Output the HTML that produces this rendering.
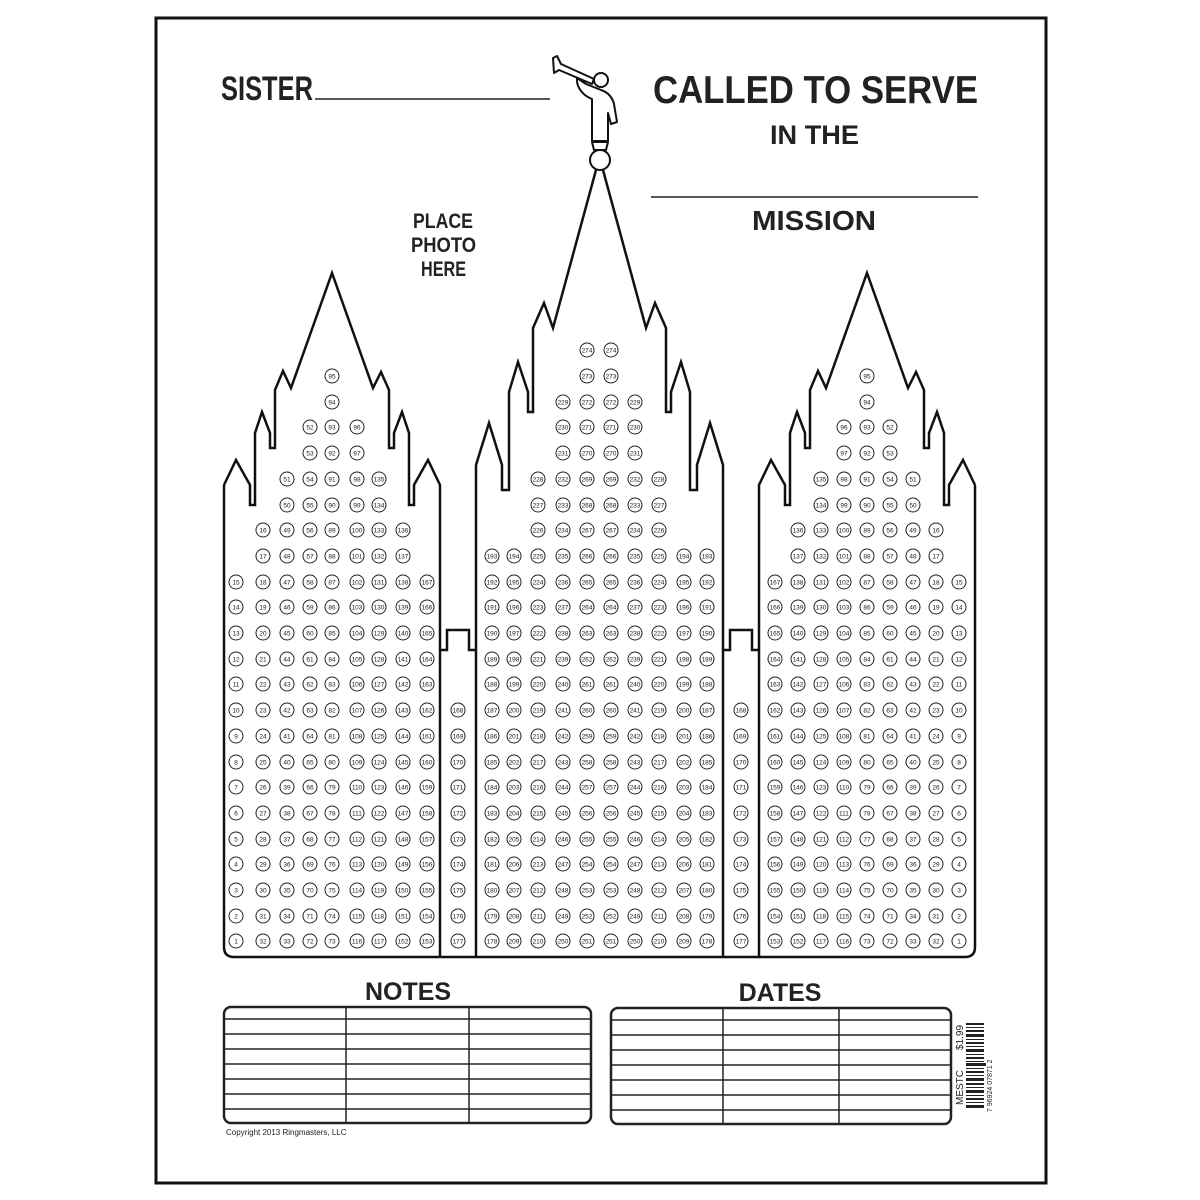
<!DOCTYPE html>
<html><head><meta charset="utf-8"><style>
html,body{margin:0;padding:0;background:#fff;}
svg{display:block;}
.c circle{fill:#fff;stroke:#222;stroke-width:1;}
.c text{font-family:"Liberation Sans",sans-serif;font-size:6.5px;fill:#222;text-anchor:middle;}
.t{font-family:"Liberation Sans",sans-serif;font-weight:bold;fill:#222;}
</style></head><body>
<svg width="1200" height="1200" viewBox="0 0 1200 1200" xmlns="http://www.w3.org/2000/svg">
<rect width="1200" height="1200" fill="#fff"/>
<rect x="156" y="18" width="890" height="1165" fill="none" stroke="#111" stroke-width="3"/>

<!-- titles -->
<text class="t" x="221" y="100" font-size="34" textLength="92" lengthAdjust="spacingAndGlyphs">SISTER</text>
<line x1="315" y1="99" x2="550" y2="99" stroke="#222" stroke-width="1.5"/>
<text class="t" x="653" y="103" font-size="39" textLength="325" lengthAdjust="spacingAndGlyphs">CALLED TO SERVE</text>
<text class="t" x="770" y="144" font-size="27" textLength="89" lengthAdjust="spacingAndGlyphs">IN THE</text>
<line x1="651" y1="197" x2="978" y2="197" stroke="#222" stroke-width="1.5"/>
<text class="t" x="752" y="230" font-size="28" textLength="124" lengthAdjust="spacingAndGlyphs">MISSION</text>
<text class="t" x="413" y="228" font-size="21" textLength="60" lengthAdjust="spacingAndGlyphs">PLACE</text>
<text class="t" x="411" y="252" font-size="21" textLength="65" lengthAdjust="spacingAndGlyphs">PHOTO</text>
<text class="t" x="421" y="276" font-size="21" textLength="45" lengthAdjust="spacingAndGlyphs">HERE</text>

<!-- building outline -->
<g fill="none" stroke="#111" stroke-width="2.5" stroke-linejoin="miter">
<path d="M224,485 L236,460 L250,485 L250,505 L255,505 L255,433 L262,412 L270,433 L270,448 L275,448 L275,390 L283,371 L291,388 L332,273 L373,388 L381,372 L389,390 L389,448 L394,448 L394,433 L402,412 L409,433 L409,505 L414,505 L414,485 L428,460 L440,485 L440,957"/>
<path d="M759,957 L759,485 L771,460 L785,485 L785,505 L790,505 L790,433 L797,412 L805,433 L805,448 L810,448 L810,390 L818,371 L826,388 L867,273 L908,388 L916,372 L924,390 L924,448 L929,448 L929,433 L937,412 L944,433 L944,505 L949,505 L949,485 L963,460 L975,485"/>
<path d="M224,485 L224,947 Q224,957 234,957 L965,957 Q975,957 975,947 L975,485"/>
<path d="M476,957 L476,465 L489,423 L502,465 L502,490 L509,490 L509,392 L518,362 L528,392 L528,412 L533,412 L533,328 L544,303 L553,328 L596,170 M603,170 L646,328 L655,303 L666,328 L666,412 L671,412 L671,392 L681,362 L690,392 L690,490 L697,490 L697,465 L710,423 L723,465 L723,957"/>
<path d="M440,650 L447,650 L447,630 L469,630 L469,650 L476,650"/>
<path d="M723,650 L730,650 L730,630 L752,630 L752,650 L759,650"/>
</g>
<!-- angel -->
<g fill="#fff" stroke="#111" stroke-width="2" stroke-linejoin="round">
<ellipse cx="600" cy="160" rx="10" ry="10"/>
<path d="M592,142 L608,142 L606,150 L594,150 Z"/>
<path d="M553,58 L557,56 L561,64 L594,79 L592,84 L559,70 L554,73 Z"/>
<path d="M577,78 C576,88 584,96 592,99 L592,141 L608,141 L608,113 L611,124 L617,122 L614,104 C612,96 607,92 601,90 L596,88 L586,84 Z"/>
<circle cx="601" cy="80" r="7"/>
</g>

<!-- circles -->
<g class="c">
<!-- left tower -->
<circle cx="332" cy="376" r="7"/><text x="332" y="378.5">95</text>
<circle cx="332" cy="402" r="7"/><text x="332" y="404.5">94</text>
<circle cx="310" cy="427" r="7"/><text x="310" y="429.5">52</text><circle cx="332" cy="427" r="7"/><text x="332" y="429.5">93</text><circle cx="357" cy="427" r="7"/><text x="357" y="429.5">96</text>
<circle cx="310" cy="453" r="7"/><text x="310" y="455.5">53</text><circle cx="332" cy="453" r="7"/><text x="332" y="455.5">92</text><circle cx="357" cy="453" r="7"/><text x="357" y="455.5">97</text>
<circle cx="287" cy="479" r="7"/><text x="287" y="481.5">51</text><circle cx="310" cy="479" r="7"/><text x="310" y="481.5">54</text><circle cx="332" cy="479" r="7"/><text x="332" y="481.5">91</text><circle cx="357" cy="479" r="7"/><text x="357" y="481.5">98</text><circle cx="379" cy="479" r="7"/><text x="379" y="481.5">135</text>
<circle cx="287" cy="505" r="7"/><text x="287" y="507.5">50</text><circle cx="310" cy="505" r="7"/><text x="310" y="507.5">55</text><circle cx="332" cy="505" r="7"/><text x="332" y="507.5">90</text><circle cx="357" cy="505" r="7"/><text x="357" y="507.5">99</text><circle cx="379" cy="505" r="7"/><text x="379" y="507.5">134</text>
<circle cx="263" cy="530" r="7"/><text x="263" y="532.5">16</text><circle cx="287" cy="530" r="7"/><text x="287" y="532.5">49</text><circle cx="310" cy="530" r="7"/><text x="310" y="532.5">56</text><circle cx="332" cy="530" r="7"/><text x="332" y="532.5">89</text><circle cx="357" cy="530" r="7"/><text x="357" y="532.5">100</text><circle cx="379" cy="530" r="7"/><text x="379" y="532.5">133</text><circle cx="403" cy="530" r="7"/><text x="403" y="532.5">136</text>
<circle cx="263" cy="556" r="7"/><text x="263" y="558.5">17</text><circle cx="287" cy="556" r="7"/><text x="287" y="558.5">48</text><circle cx="310" cy="556" r="7"/><text x="310" y="558.5">57</text><circle cx="332" cy="556" r="7"/><text x="332" y="558.5">88</text><circle cx="357" cy="556" r="7"/><text x="357" y="558.5">101</text><circle cx="379" cy="556" r="7"/><text x="379" y="558.5">132</text><circle cx="403" cy="556" r="7"/><text x="403" y="558.5">137</text>
<circle cx="236" cy="582" r="7"/><text x="236" y="584.5">15</text><circle cx="263" cy="582" r="7"/><text x="263" y="584.5">18</text><circle cx="287" cy="582" r="7"/><text x="287" y="584.5">47</text><circle cx="310" cy="582" r="7"/><text x="310" y="584.5">58</text><circle cx="332" cy="582" r="7"/><text x="332" y="584.5">87</text><circle cx="357" cy="582" r="7"/><text x="357" y="584.5">102</text><circle cx="379" cy="582" r="7"/><text x="379" y="584.5">131</text><circle cx="403" cy="582" r="7"/><text x="403" y="584.5">138</text><circle cx="427" cy="582" r="7"/><text x="427" y="584.5">167</text>
<circle cx="236" cy="607" r="7"/><text x="236" y="609.5">14</text><circle cx="263" cy="607" r="7"/><text x="263" y="609.5">19</text><circle cx="287" cy="607" r="7"/><text x="287" y="609.5">46</text><circle cx="310" cy="607" r="7"/><text x="310" y="609.5">59</text><circle cx="332" cy="607" r="7"/><text x="332" y="609.5">86</text><circle cx="357" cy="607" r="7"/><text x="357" y="609.5">103</text><circle cx="379" cy="607" r="7"/><text x="379" y="609.5">130</text><circle cx="403" cy="607" r="7"/><text x="403" y="609.5">139</text><circle cx="427" cy="607" r="7"/><text x="427" y="609.5">166</text>
<circle cx="236" cy="633" r="7"/><text x="236" y="635.5">13</text><circle cx="263" cy="633" r="7"/><text x="263" y="635.5">20</text><circle cx="287" cy="633" r="7"/><text x="287" y="635.5">45</text><circle cx="310" cy="633" r="7"/><text x="310" y="635.5">60</text><circle cx="332" cy="633" r="7"/><text x="332" y="635.5">85</text><circle cx="357" cy="633" r="7"/><text x="357" y="635.5">104</text><circle cx="379" cy="633" r="7"/><text x="379" y="635.5">129</text><circle cx="403" cy="633" r="7"/><text x="403" y="635.5">140</text><circle cx="427" cy="633" r="7"/><text x="427" y="635.5">165</text>
<circle cx="236" cy="659" r="7"/><text x="236" y="661.5">12</text><circle cx="263" cy="659" r="7"/><text x="263" y="661.5">21</text><circle cx="287" cy="659" r="7"/><text x="287" y="661.5">44</text><circle cx="310" cy="659" r="7"/><text x="310" y="661.5">61</text><circle cx="332" cy="659" r="7"/><text x="332" y="661.5">84</text><circle cx="357" cy="659" r="7"/><text x="357" y="661.5">105</text><circle cx="379" cy="659" r="7"/><text x="379" y="661.5">128</text><circle cx="403" cy="659" r="7"/><text x="403" y="661.5">141</text><circle cx="427" cy="659" r="7"/><text x="427" y="661.5">164</text>
<circle cx="236" cy="684" r="7"/><text x="236" y="686.5">11</text><circle cx="263" cy="684" r="7"/><text x="263" y="686.5">22</text><circle cx="287" cy="684" r="7"/><text x="287" y="686.5">43</text><circle cx="310" cy="684" r="7"/><text x="310" y="686.5">62</text><circle cx="332" cy="684" r="7"/><text x="332" y="686.5">83</text><circle cx="357" cy="684" r="7"/><text x="357" y="686.5">106</text><circle cx="379" cy="684" r="7"/><text x="379" y="686.5">127</text><circle cx="403" cy="684" r="7"/><text x="403" y="686.5">142</text><circle cx="427" cy="684" r="7"/><text x="427" y="686.5">163</text>
<circle cx="236" cy="710" r="7"/><text x="236" y="712.5">10</text><circle cx="263" cy="710" r="7"/><text x="263" y="712.5">23</text><circle cx="287" cy="710" r="7"/><text x="287" y="712.5">42</text><circle cx="310" cy="710" r="7"/><text x="310" y="712.5">63</text><circle cx="332" cy="710" r="7"/><text x="332" y="712.5">82</text><circle cx="357" cy="710" r="7"/><text x="357" y="712.5">107</text><circle cx="379" cy="710" r="7"/><text x="379" y="712.5">126</text><circle cx="403" cy="710" r="7"/><text x="403" y="712.5">143</text><circle cx="427" cy="710" r="7"/><text x="427" y="712.5">162</text>
<circle cx="236" cy="736" r="7"/><text x="236" y="738.5">9</text><circle cx="263" cy="736" r="7"/><text x="263" y="738.5">24</text><circle cx="287" cy="736" r="7"/><text x="287" y="738.5">41</text><circle cx="310" cy="736" r="7"/><text x="310" y="738.5">64</text><circle cx="332" cy="736" r="7"/><text x="332" y="738.5">81</text><circle cx="357" cy="736" r="7"/><text x="357" y="738.5">108</text><circle cx="379" cy="736" r="7"/><text x="379" y="738.5">125</text><circle cx="403" cy="736" r="7"/><text x="403" y="738.5">144</text><circle cx="427" cy="736" r="7"/><text x="427" y="738.5">161</text>
<circle cx="236" cy="762" r="7"/><text x="236" y="764.5">8</text><circle cx="263" cy="762" r="7"/><text x="263" y="764.5">25</text><circle cx="287" cy="762" r="7"/><text x="287" y="764.5">40</text><circle cx="310" cy="762" r="7"/><text x="310" y="764.5">65</text><circle cx="332" cy="762" r="7"/><text x="332" y="764.5">80</text><circle cx="357" cy="762" r="7"/><text x="357" y="764.5">109</text><circle cx="379" cy="762" r="7"/><text x="379" y="764.5">124</text><circle cx="403" cy="762" r="7"/><text x="403" y="764.5">145</text><circle cx="427" cy="762" r="7"/><text x="427" y="764.5">160</text>
<circle cx="236" cy="787" r="7"/><text x="236" y="789.5">7</text><circle cx="263" cy="787" r="7"/><text x="263" y="789.5">26</text><circle cx="287" cy="787" r="7"/><text x="287" y="789.5">39</text><circle cx="310" cy="787" r="7"/><text x="310" y="789.5">66</text><circle cx="332" cy="787" r="7"/><text x="332" y="789.5">79</text><circle cx="357" cy="787" r="7"/><text x="357" y="789.5">110</text><circle cx="379" cy="787" r="7"/><text x="379" y="789.5">123</text><circle cx="403" cy="787" r="7"/><text x="403" y="789.5">146</text><circle cx="427" cy="787" r="7"/><text x="427" y="789.5">159</text>
<circle cx="236" cy="813" r="7"/><text x="236" y="815.5">6</text><circle cx="263" cy="813" r="7"/><text x="263" y="815.5">27</text><circle cx="287" cy="813" r="7"/><text x="287" y="815.5">38</text><circle cx="310" cy="813" r="7"/><text x="310" y="815.5">67</text><circle cx="332" cy="813" r="7"/><text x="332" y="815.5">78</text><circle cx="357" cy="813" r="7"/><text x="357" y="815.5">111</text><circle cx="379" cy="813" r="7"/><text x="379" y="815.5">122</text><circle cx="403" cy="813" r="7"/><text x="403" y="815.5">147</text><circle cx="427" cy="813" r="7"/><text x="427" y="815.5">158</text>
<circle cx="236" cy="839" r="7"/><text x="236" y="841.5">5</text><circle cx="263" cy="839" r="7"/><text x="263" y="841.5">28</text><circle cx="287" cy="839" r="7"/><text x="287" y="841.5">37</text><circle cx="310" cy="839" r="7"/><text x="310" y="841.5">68</text><circle cx="332" cy="839" r="7"/><text x="332" y="841.5">77</text><circle cx="357" cy="839" r="7"/><text x="357" y="841.5">112</text><circle cx="379" cy="839" r="7"/><text x="379" y="841.5">121</text><circle cx="403" cy="839" r="7"/><text x="403" y="841.5">148</text><circle cx="427" cy="839" r="7"/><text x="427" y="841.5">157</text>
<circle cx="236" cy="864" r="7"/><text x="236" y="866.5">4</text><circle cx="263" cy="864" r="7"/><text x="263" y="866.5">29</text><circle cx="287" cy="864" r="7"/><text x="287" y="866.5">36</text><circle cx="310" cy="864" r="7"/><text x="310" y="866.5">69</text><circle cx="332" cy="864" r="7"/><text x="332" y="866.5">76</text><circle cx="357" cy="864" r="7"/><text x="357" y="866.5">113</text><circle cx="379" cy="864" r="7"/><text x="379" y="866.5">120</text><circle cx="403" cy="864" r="7"/><text x="403" y="866.5">149</text><circle cx="427" cy="864" r="7"/><text x="427" y="866.5">156</text>
<circle cx="236" cy="890" r="7"/><text x="236" y="892.5">3</text><circle cx="263" cy="890" r="7"/><text x="263" y="892.5">30</text><circle cx="287" cy="890" r="7"/><text x="287" y="892.5">35</text><circle cx="310" cy="890" r="7"/><text x="310" y="892.5">70</text><circle cx="332" cy="890" r="7"/><text x="332" y="892.5">75</text><circle cx="357" cy="890" r="7"/><text x="357" y="892.5">114</text><circle cx="379" cy="890" r="7"/><text x="379" y="892.5">119</text><circle cx="403" cy="890" r="7"/><text x="403" y="892.5">150</text><circle cx="427" cy="890" r="7"/><text x="427" y="892.5">155</text>
<circle cx="236" cy="916" r="7"/><text x="236" y="918.5">2</text><circle cx="263" cy="916" r="7"/><text x="263" y="918.5">31</text><circle cx="287" cy="916" r="7"/><text x="287" y="918.5">34</text><circle cx="310" cy="916" r="7"/><text x="310" y="918.5">71</text><circle cx="332" cy="916" r="7"/><text x="332" y="918.5">74</text><circle cx="357" cy="916" r="7"/><text x="357" y="918.5">115</text><circle cx="379" cy="916" r="7"/><text x="379" y="918.5">118</text><circle cx="403" cy="916" r="7"/><text x="403" y="918.5">151</text><circle cx="427" cy="916" r="7"/><text x="427" y="918.5">154</text>
<circle cx="236" cy="941" r="7"/><text x="236" y="943.5">1</text><circle cx="263" cy="941" r="7"/><text x="263" y="943.5">32</text><circle cx="287" cy="941" r="7"/><text x="287" y="943.5">33</text><circle cx="310" cy="941" r="7"/><text x="310" y="943.5">72</text><circle cx="332" cy="941" r="7"/><text x="332" y="943.5">73</text><circle cx="357" cy="941" r="7"/><text x="357" y="943.5">116</text><circle cx="379" cy="941" r="7"/><text x="379" y="943.5">117</text><circle cx="403" cy="941" r="7"/><text x="403" y="943.5">152</text><circle cx="427" cy="941" r="7"/><text x="427" y="943.5">153</text>

<!-- right tower -->
<circle cx="867" cy="376" r="7"/><text x="867" y="378.5">95</text>
<circle cx="867" cy="402" r="7"/><text x="867" y="404.5">94</text>
<circle cx="844" cy="427" r="7"/><text x="844" y="429.5">96</text><circle cx="867" cy="427" r="7"/><text x="867" y="429.5">93</text><circle cx="890" cy="427" r="7"/><text x="890" y="429.5">52</text>
<circle cx="844" cy="453" r="7"/><text x="844" y="455.5">97</text><circle cx="867" cy="453" r="7"/><text x="867" y="455.5">92</text><circle cx="890" cy="453" r="7"/><text x="890" y="455.5">53</text>
<circle cx="821" cy="479" r="7"/><text x="821" y="481.5">135</text><circle cx="844" cy="479" r="7"/><text x="844" y="481.5">98</text><circle cx="867" cy="479" r="7"/><text x="867" y="481.5">91</text><circle cx="890" cy="479" r="7"/><text x="890" y="481.5">54</text><circle cx="913" cy="479" r="7"/><text x="913" y="481.5">51</text>
<circle cx="821" cy="505" r="7"/><text x="821" y="507.5">134</text><circle cx="844" cy="505" r="7"/><text x="844" y="507.5">99</text><circle cx="867" cy="505" r="7"/><text x="867" y="507.5">90</text><circle cx="890" cy="505" r="7"/><text x="890" y="507.5">55</text><circle cx="913" cy="505" r="7"/><text x="913" y="507.5">50</text>
<circle cx="798" cy="530" r="7"/><text x="798" y="532.5">136</text><circle cx="821" cy="530" r="7"/><text x="821" y="532.5">133</text><circle cx="844" cy="530" r="7"/><text x="844" y="532.5">100</text><circle cx="867" cy="530" r="7"/><text x="867" y="532.5">89</text><circle cx="890" cy="530" r="7"/><text x="890" y="532.5">56</text><circle cx="913" cy="530" r="7"/><text x="913" y="532.5">49</text><circle cx="936" cy="530" r="7"/><text x="936" y="532.5">16</text>
<circle cx="798" cy="556" r="7"/><text x="798" y="558.5">137</text><circle cx="821" cy="556" r="7"/><text x="821" y="558.5">132</text><circle cx="844" cy="556" r="7"/><text x="844" y="558.5">101</text><circle cx="867" cy="556" r="7"/><text x="867" y="558.5">88</text><circle cx="890" cy="556" r="7"/><text x="890" y="558.5">57</text><circle cx="913" cy="556" r="7"/><text x="913" y="558.5">48</text><circle cx="936" cy="556" r="7"/><text x="936" y="558.5">17</text>
<circle cx="775" cy="582" r="7"/><text x="775" y="584.5">167</text><circle cx="798" cy="582" r="7"/><text x="798" y="584.5">138</text><circle cx="821" cy="582" r="7"/><text x="821" y="584.5">131</text><circle cx="844" cy="582" r="7"/><text x="844" y="584.5">102</text><circle cx="867" cy="582" r="7"/><text x="867" y="584.5">87</text><circle cx="890" cy="582" r="7"/><text x="890" y="584.5">58</text><circle cx="913" cy="582" r="7"/><text x="913" y="584.5">47</text><circle cx="936" cy="582" r="7"/><text x="936" y="584.5">18</text><circle cx="959" cy="582" r="7"/><text x="959" y="584.5">15</text>
<circle cx="775" cy="607" r="7"/><text x="775" y="609.5">166</text><circle cx="798" cy="607" r="7"/><text x="798" y="609.5">139</text><circle cx="821" cy="607" r="7"/><text x="821" y="609.5">130</text><circle cx="844" cy="607" r="7"/><text x="844" y="609.5">103</text><circle cx="867" cy="607" r="7"/><text x="867" y="609.5">86</text><circle cx="890" cy="607" r="7"/><text x="890" y="609.5">59</text><circle cx="913" cy="607" r="7"/><text x="913" y="609.5">46</text><circle cx="936" cy="607" r="7"/><text x="936" y="609.5">19</text><circle cx="959" cy="607" r="7"/><text x="959" y="609.5">14</text>
<circle cx="775" cy="633" r="7"/><text x="775" y="635.5">165</text><circle cx="798" cy="633" r="7"/><text x="798" y="635.5">140</text><circle cx="821" cy="633" r="7"/><text x="821" y="635.5">129</text><circle cx="844" cy="633" r="7"/><text x="844" y="635.5">104</text><circle cx="867" cy="633" r="7"/><text x="867" y="635.5">85</text><circle cx="890" cy="633" r="7"/><text x="890" y="635.5">60</text><circle cx="913" cy="633" r="7"/><text x="913" y="635.5">45</text><circle cx="936" cy="633" r="7"/><text x="936" y="635.5">20</text><circle cx="959" cy="633" r="7"/><text x="959" y="635.5">13</text>
<circle cx="775" cy="659" r="7"/><text x="775" y="661.5">164</text><circle cx="798" cy="659" r="7"/><text x="798" y="661.5">141</text><circle cx="821" cy="659" r="7"/><text x="821" y="661.5">128</text><circle cx="844" cy="659" r="7"/><text x="844" y="661.5">105</text><circle cx="867" cy="659" r="7"/><text x="867" y="661.5">84</text><circle cx="890" cy="659" r="7"/><text x="890" y="661.5">61</text><circle cx="913" cy="659" r="7"/><text x="913" y="661.5">44</text><circle cx="936" cy="659" r="7"/><text x="936" y="661.5">21</text><circle cx="959" cy="659" r="7"/><text x="959" y="661.5">12</text>
<circle cx="775" cy="684" r="7"/><text x="775" y="686.5">163</text><circle cx="798" cy="684" r="7"/><text x="798" y="686.5">142</text><circle cx="821" cy="684" r="7"/><text x="821" y="686.5">127</text><circle cx="844" cy="684" r="7"/><text x="844" y="686.5">106</text><circle cx="867" cy="684" r="7"/><text x="867" y="686.5">83</text><circle cx="890" cy="684" r="7"/><text x="890" y="686.5">62</text><circle cx="913" cy="684" r="7"/><text x="913" y="686.5">43</text><circle cx="936" cy="684" r="7"/><text x="936" y="686.5">22</text><circle cx="959" cy="684" r="7"/><text x="959" y="686.5">11</text>
<circle cx="775" cy="710" r="7"/><text x="775" y="712.5">162</text><circle cx="798" cy="710" r="7"/><text x="798" y="712.5">143</text><circle cx="821" cy="710" r="7"/><text x="821" y="712.5">126</text><circle cx="844" cy="710" r="7"/><text x="844" y="712.5">107</text><circle cx="867" cy="710" r="7"/><text x="867" y="712.5">82</text><circle cx="890" cy="710" r="7"/><text x="890" y="712.5">63</text><circle cx="913" cy="710" r="7"/><text x="913" y="712.5">42</text><circle cx="936" cy="710" r="7"/><text x="936" y="712.5">23</text><circle cx="959" cy="710" r="7"/><text x="959" y="712.5">10</text>
<circle cx="775" cy="736" r="7"/><text x="775" y="738.5">161</text><circle cx="798" cy="736" r="7"/><text x="798" y="738.5">144</text><circle cx="821" cy="736" r="7"/><text x="821" y="738.5">125</text><circle cx="844" cy="736" r="7"/><text x="844" y="738.5">108</text><circle cx="867" cy="736" r="7"/><text x="867" y="738.5">81</text><circle cx="890" cy="736" r="7"/><text x="890" y="738.5">64</text><circle cx="913" cy="736" r="7"/><text x="913" y="738.5">41</text><circle cx="936" cy="736" r="7"/><text x="936" y="738.5">24</text><circle cx="959" cy="736" r="7"/><text x="959" y="738.5">9</text>
<circle cx="775" cy="762" r="7"/><text x="775" y="764.5">160</text><circle cx="798" cy="762" r="7"/><text x="798" y="764.5">145</text><circle cx="821" cy="762" r="7"/><text x="821" y="764.5">124</text><circle cx="844" cy="762" r="7"/><text x="844" y="764.5">109</text><circle cx="867" cy="762" r="7"/><text x="867" y="764.5">80</text><circle cx="890" cy="762" r="7"/><text x="890" y="764.5">65</text><circle cx="913" cy="762" r="7"/><text x="913" y="764.5">40</text><circle cx="936" cy="762" r="7"/><text x="936" y="764.5">25</text><circle cx="959" cy="762" r="7"/><text x="959" y="764.5">8</text>
<circle cx="775" cy="787" r="7"/><text x="775" y="789.5">159</text><circle cx="798" cy="787" r="7"/><text x="798" y="789.5">146</text><circle cx="821" cy="787" r="7"/><text x="821" y="789.5">123</text><circle cx="844" cy="787" r="7"/><text x="844" y="789.5">110</text><circle cx="867" cy="787" r="7"/><text x="867" y="789.5">79</text><circle cx="890" cy="787" r="7"/><text x="890" y="789.5">66</text><circle cx="913" cy="787" r="7"/><text x="913" y="789.5">39</text><circle cx="936" cy="787" r="7"/><text x="936" y="789.5">26</text><circle cx="959" cy="787" r="7"/><text x="959" y="789.5">7</text>
<circle cx="775" cy="813" r="7"/><text x="775" y="815.5">158</text><circle cx="798" cy="813" r="7"/><text x="798" y="815.5">147</text><circle cx="821" cy="813" r="7"/><text x="821" y="815.5">122</text><circle cx="844" cy="813" r="7"/><text x="844" y="815.5">111</text><circle cx="867" cy="813" r="7"/><text x="867" y="815.5">78</text><circle cx="890" cy="813" r="7"/><text x="890" y="815.5">67</text><circle cx="913" cy="813" r="7"/><text x="913" y="815.5">38</text><circle cx="936" cy="813" r="7"/><text x="936" y="815.5">27</text><circle cx="959" cy="813" r="7"/><text x="959" y="815.5">6</text>
<circle cx="775" cy="839" r="7"/><text x="775" y="841.5">157</text><circle cx="798" cy="839" r="7"/><text x="798" y="841.5">148</text><circle cx="821" cy="839" r="7"/><text x="821" y="841.5">121</text><circle cx="844" cy="839" r="7"/><text x="844" y="841.5">112</text><circle cx="867" cy="839" r="7"/><text x="867" y="841.5">77</text><circle cx="890" cy="839" r="7"/><text x="890" y="841.5">68</text><circle cx="913" cy="839" r="7"/><text x="913" y="841.5">37</text><circle cx="936" cy="839" r="7"/><text x="936" y="841.5">28</text><circle cx="959" cy="839" r="7"/><text x="959" y="841.5">5</text>
<circle cx="775" cy="864" r="7"/><text x="775" y="866.5">156</text><circle cx="798" cy="864" r="7"/><text x="798" y="866.5">149</text><circle cx="821" cy="864" r="7"/><text x="821" y="866.5">120</text><circle cx="844" cy="864" r="7"/><text x="844" y="866.5">113</text><circle cx="867" cy="864" r="7"/><text x="867" y="866.5">76</text><circle cx="890" cy="864" r="7"/><text x="890" y="866.5">69</text><circle cx="913" cy="864" r="7"/><text x="913" y="866.5">36</text><circle cx="936" cy="864" r="7"/><text x="936" y="866.5">29</text><circle cx="959" cy="864" r="7"/><text x="959" y="866.5">4</text>
<circle cx="775" cy="890" r="7"/><text x="775" y="892.5">155</text><circle cx="798" cy="890" r="7"/><text x="798" y="892.5">150</text><circle cx="821" cy="890" r="7"/><text x="821" y="892.5">119</text><circle cx="844" cy="890" r="7"/><text x="844" y="892.5">114</text><circle cx="867" cy="890" r="7"/><text x="867" y="892.5">75</text><circle cx="890" cy="890" r="7"/><text x="890" y="892.5">70</text><circle cx="913" cy="890" r="7"/><text x="913" y="892.5">35</text><circle cx="936" cy="890" r="7"/><text x="936" y="892.5">30</text><circle cx="959" cy="890" r="7"/><text x="959" y="892.5">3</text>
<circle cx="775" cy="916" r="7"/><text x="775" y="918.5">154</text><circle cx="798" cy="916" r="7"/><text x="798" y="918.5">151</text><circle cx="821" cy="916" r="7"/><text x="821" y="918.5">118</text><circle cx="844" cy="916" r="7"/><text x="844" y="918.5">115</text><circle cx="867" cy="916" r="7"/><text x="867" y="918.5">74</text><circle cx="890" cy="916" r="7"/><text x="890" y="918.5">71</text><circle cx="913" cy="916" r="7"/><text x="913" y="918.5">34</text><circle cx="936" cy="916" r="7"/><text x="936" y="918.5">31</text><circle cx="959" cy="916" r="7"/><text x="959" y="918.5">2</text>
<circle cx="775" cy="941" r="7"/><text x="775" y="943.5">153</text><circle cx="798" cy="941" r="7"/><text x="798" y="943.5">152</text><circle cx="821" cy="941" r="7"/><text x="821" y="943.5">117</text><circle cx="844" cy="941" r="7"/><text x="844" y="943.5">116</text><circle cx="867" cy="941" r="7"/><text x="867" y="943.5">73</text><circle cx="890" cy="941" r="7"/><text x="890" y="943.5">72</text><circle cx="913" cy="941" r="7"/><text x="913" y="943.5">33</text><circle cx="936" cy="941" r="7"/><text x="936" y="943.5">32</text><circle cx="959" cy="941" r="7"/><text x="959" y="943.5">1</text>

<!-- small towers -->
<circle cx="458" cy="710" r="7"/><text x="458" y="712.5">168</text><circle cx="741" cy="710" r="7"/><text x="741" y="712.5">168</text>
<circle cx="458" cy="736" r="7"/><text x="458" y="738.5">169</text><circle cx="741" cy="736" r="7"/><text x="741" y="738.5">169</text>
<circle cx="458" cy="762" r="7"/><text x="458" y="764.5">170</text><circle cx="741" cy="762" r="7"/><text x="741" y="764.5">170</text>
<circle cx="458" cy="787" r="7"/><text x="458" y="789.5">171</text><circle cx="741" cy="787" r="7"/><text x="741" y="789.5">171</text>
<circle cx="458" cy="813" r="7"/><text x="458" y="815.5">172</text><circle cx="741" cy="813" r="7"/><text x="741" y="815.5">172</text>
<circle cx="458" cy="839" r="7"/><text x="458" y="841.5">173</text><circle cx="741" cy="839" r="7"/><text x="741" y="841.5">173</text>
<circle cx="458" cy="864" r="7"/><text x="458" y="866.5">174</text><circle cx="741" cy="864" r="7"/><text x="741" y="866.5">174</text>
<circle cx="458" cy="890" r="7"/><text x="458" y="892.5">175</text><circle cx="741" cy="890" r="7"/><text x="741" y="892.5">175</text>
<circle cx="458" cy="916" r="7"/><text x="458" y="918.5">176</text><circle cx="741" cy="916" r="7"/><text x="741" y="918.5">176</text>
<circle cx="458" cy="941" r="7"/><text x="458" y="943.5">177</text><circle cx="741" cy="941" r="7"/><text x="741" y="943.5">177</text>

<!-- center tower -->
<circle cx="587" cy="350" r="7"/><text x="587" y="352.5">274</text><circle cx="611" cy="350" r="7"/><text x="611" y="352.5">274</text>
<circle cx="587" cy="376" r="7"/><text x="587" y="378.5">273</text><circle cx="611" cy="376" r="7"/><text x="611" y="378.5">273</text>
<circle cx="563" cy="402" r="7"/><text x="563" y="404.5">229</text><circle cx="587" cy="402" r="7"/><text x="587" y="404.5">272</text><circle cx="611" cy="402" r="7"/><text x="611" y="404.5">272</text><circle cx="635" cy="402" r="7"/><text x="635" y="404.5">229</text>
<circle cx="563" cy="427" r="7"/><text x="563" y="429.5">230</text><circle cx="587" cy="427" r="7"/><text x="587" y="429.5">271</text><circle cx="611" cy="427" r="7"/><text x="611" y="429.5">271</text><circle cx="635" cy="427" r="7"/><text x="635" y="429.5">230</text>
<circle cx="563" cy="453" r="7"/><text x="563" y="455.5">231</text><circle cx="587" cy="453" r="7"/><text x="587" y="455.5">270</text><circle cx="611" cy="453" r="7"/><text x="611" y="455.5">270</text><circle cx="635" cy="453" r="7"/><text x="635" y="455.5">231</text>
<circle cx="538" cy="479" r="7"/><text x="538" y="481.5">228</text><circle cx="563" cy="479" r="7"/><text x="563" y="481.5">232</text><circle cx="587" cy="479" r="7"/><text x="587" y="481.5">269</text><circle cx="611" cy="479" r="7"/><text x="611" y="481.5">269</text><circle cx="635" cy="479" r="7"/><text x="635" y="481.5">232</text><circle cx="659" cy="479" r="7"/><text x="659" y="481.5">228</text>
<circle cx="538" cy="505" r="7"/><text x="538" y="507.5">227</text><circle cx="563" cy="505" r="7"/><text x="563" y="507.5">233</text><circle cx="587" cy="505" r="7"/><text x="587" y="507.5">268</text><circle cx="611" cy="505" r="7"/><text x="611" y="507.5">268</text><circle cx="635" cy="505" r="7"/><text x="635" y="507.5">233</text><circle cx="659" cy="505" r="7"/><text x="659" y="507.5">227</text>
<circle cx="538" cy="530" r="7"/><text x="538" y="532.5">226</text><circle cx="563" cy="530" r="7"/><text x="563" y="532.5">234</text><circle cx="587" cy="530" r="7"/><text x="587" y="532.5">267</text><circle cx="611" cy="530" r="7"/><text x="611" y="532.5">267</text><circle cx="635" cy="530" r="7"/><text x="635" y="532.5">234</text><circle cx="659" cy="530" r="7"/><text x="659" y="532.5">226</text>
<circle cx="492" cy="556" r="7"/><text x="492" y="558.5">193</text><circle cx="514" cy="556" r="7"/><text x="514" y="558.5">194</text><circle cx="538" cy="556" r="7"/><text x="538" y="558.5">225</text><circle cx="563" cy="556" r="7"/><text x="563" y="558.5">235</text><circle cx="587" cy="556" r="7"/><text x="587" y="558.5">266</text><circle cx="611" cy="556" r="7"/><text x="611" y="558.5">266</text><circle cx="635" cy="556" r="7"/><text x="635" y="558.5">235</text><circle cx="659" cy="556" r="7"/><text x="659" y="558.5">225</text><circle cx="684" cy="556" r="7"/><text x="684" y="558.5">194</text><circle cx="707" cy="556" r="7"/><text x="707" y="558.5">193</text>
<circle cx="492" cy="582" r="7"/><text x="492" y="584.5">192</text><circle cx="514" cy="582" r="7"/><text x="514" y="584.5">195</text><circle cx="538" cy="582" r="7"/><text x="538" y="584.5">224</text><circle cx="563" cy="582" r="7"/><text x="563" y="584.5">236</text><circle cx="587" cy="582" r="7"/><text x="587" y="584.5">265</text><circle cx="611" cy="582" r="7"/><text x="611" y="584.5">265</text><circle cx="635" cy="582" r="7"/><text x="635" y="584.5">236</text><circle cx="659" cy="582" r="7"/><text x="659" y="584.5">224</text><circle cx="684" cy="582" r="7"/><text x="684" y="584.5">195</text><circle cx="707" cy="582" r="7"/><text x="707" y="584.5">192</text>
<circle cx="492" cy="607" r="7"/><text x="492" y="609.5">191</text><circle cx="514" cy="607" r="7"/><text x="514" y="609.5">196</text><circle cx="538" cy="607" r="7"/><text x="538" y="609.5">223</text><circle cx="563" cy="607" r="7"/><text x="563" y="609.5">237</text><circle cx="587" cy="607" r="7"/><text x="587" y="609.5">264</text><circle cx="611" cy="607" r="7"/><text x="611" y="609.5">264</text><circle cx="635" cy="607" r="7"/><text x="635" y="609.5">237</text><circle cx="659" cy="607" r="7"/><text x="659" y="609.5">223</text><circle cx="684" cy="607" r="7"/><text x="684" y="609.5">196</text><circle cx="707" cy="607" r="7"/><text x="707" y="609.5">191</text>
<circle cx="492" cy="633" r="7"/><text x="492" y="635.5">190</text><circle cx="514" cy="633" r="7"/><text x="514" y="635.5">197</text><circle cx="538" cy="633" r="7"/><text x="538" y="635.5">222</text><circle cx="563" cy="633" r="7"/><text x="563" y="635.5">238</text><circle cx="587" cy="633" r="7"/><text x="587" y="635.5">263</text><circle cx="611" cy="633" r="7"/><text x="611" y="635.5">263</text><circle cx="635" cy="633" r="7"/><text x="635" y="635.5">238</text><circle cx="659" cy="633" r="7"/><text x="659" y="635.5">222</text><circle cx="684" cy="633" r="7"/><text x="684" y="635.5">197</text><circle cx="707" cy="633" r="7"/><text x="707" y="635.5">190</text>
<circle cx="492" cy="659" r="7"/><text x="492" y="661.5">189</text><circle cx="514" cy="659" r="7"/><text x="514" y="661.5">198</text><circle cx="538" cy="659" r="7"/><text x="538" y="661.5">221</text><circle cx="563" cy="659" r="7"/><text x="563" y="661.5">239</text><circle cx="587" cy="659" r="7"/><text x="587" y="661.5">262</text><circle cx="611" cy="659" r="7"/><text x="611" y="661.5">262</text><circle cx="635" cy="659" r="7"/><text x="635" y="661.5">239</text><circle cx="659" cy="659" r="7"/><text x="659" y="661.5">221</text><circle cx="684" cy="659" r="7"/><text x="684" y="661.5">198</text><circle cx="707" cy="659" r="7"/><text x="707" y="661.5">189</text>
<circle cx="492" cy="684" r="7"/><text x="492" y="686.5">188</text><circle cx="514" cy="684" r="7"/><text x="514" y="686.5">199</text><circle cx="538" cy="684" r="7"/><text x="538" y="686.5">220</text><circle cx="563" cy="684" r="7"/><text x="563" y="686.5">240</text><circle cx="587" cy="684" r="7"/><text x="587" y="686.5">261</text><circle cx="611" cy="684" r="7"/><text x="611" y="686.5">261</text><circle cx="635" cy="684" r="7"/><text x="635" y="686.5">240</text><circle cx="659" cy="684" r="7"/><text x="659" y="686.5">220</text><circle cx="684" cy="684" r="7"/><text x="684" y="686.5">199</text><circle cx="707" cy="684" r="7"/><text x="707" y="686.5">188</text>
<circle cx="492" cy="710" r="7"/><text x="492" y="712.5">187</text><circle cx="514" cy="710" r="7"/><text x="514" y="712.5">200</text><circle cx="538" cy="710" r="7"/><text x="538" y="712.5">219</text><circle cx="563" cy="710" r="7"/><text x="563" y="712.5">241</text><circle cx="587" cy="710" r="7"/><text x="587" y="712.5">260</text><circle cx="611" cy="710" r="7"/><text x="611" y="712.5">260</text><circle cx="635" cy="710" r="7"/><text x="635" y="712.5">241</text><circle cx="659" cy="710" r="7"/><text x="659" y="712.5">219</text><circle cx="684" cy="710" r="7"/><text x="684" y="712.5">200</text><circle cx="707" cy="710" r="7"/><text x="707" y="712.5">187</text>
<circle cx="492" cy="736" r="7"/><text x="492" y="738.5">186</text><circle cx="514" cy="736" r="7"/><text x="514" y="738.5">201</text><circle cx="538" cy="736" r="7"/><text x="538" y="738.5">218</text><circle cx="563" cy="736" r="7"/><text x="563" y="738.5">242</text><circle cx="587" cy="736" r="7"/><text x="587" y="738.5">259</text><circle cx="611" cy="736" r="7"/><text x="611" y="738.5">259</text><circle cx="635" cy="736" r="7"/><text x="635" y="738.5">242</text><circle cx="659" cy="736" r="7"/><text x="659" y="738.5">218</text><circle cx="684" cy="736" r="7"/><text x="684" y="738.5">201</text><circle cx="707" cy="736" r="7"/><text x="707" y="738.5">186</text>
<circle cx="492" cy="762" r="7"/><text x="492" y="764.5">185</text><circle cx="514" cy="762" r="7"/><text x="514" y="764.5">202</text><circle cx="538" cy="762" r="7"/><text x="538" y="764.5">217</text><circle cx="563" cy="762" r="7"/><text x="563" y="764.5">243</text><circle cx="587" cy="762" r="7"/><text x="587" y="764.5">258</text><circle cx="611" cy="762" r="7"/><text x="611" y="764.5">258</text><circle cx="635" cy="762" r="7"/><text x="635" y="764.5">243</text><circle cx="659" cy="762" r="7"/><text x="659" y="764.5">217</text><circle cx="684" cy="762" r="7"/><text x="684" y="764.5">202</text><circle cx="707" cy="762" r="7"/><text x="707" y="764.5">185</text>
<circle cx="492" cy="787" r="7"/><text x="492" y="789.5">184</text><circle cx="514" cy="787" r="7"/><text x="514" y="789.5">203</text><circle cx="538" cy="787" r="7"/><text x="538" y="789.5">216</text><circle cx="563" cy="787" r="7"/><text x="563" y="789.5">244</text><circle cx="587" cy="787" r="7"/><text x="587" y="789.5">257</text><circle cx="611" cy="787" r="7"/><text x="611" y="789.5">257</text><circle cx="635" cy="787" r="7"/><text x="635" y="789.5">244</text><circle cx="659" cy="787" r="7"/><text x="659" y="789.5">216</text><circle cx="684" cy="787" r="7"/><text x="684" y="789.5">203</text><circle cx="707" cy="787" r="7"/><text x="707" y="789.5">184</text>
<circle cx="492" cy="813" r="7"/><text x="492" y="815.5">183</text><circle cx="514" cy="813" r="7"/><text x="514" y="815.5">204</text><circle cx="538" cy="813" r="7"/><text x="538" y="815.5">215</text><circle cx="563" cy="813" r="7"/><text x="563" y="815.5">245</text><circle cx="587" cy="813" r="7"/><text x="587" y="815.5">256</text><circle cx="611" cy="813" r="7"/><text x="611" y="815.5">256</text><circle cx="635" cy="813" r="7"/><text x="635" y="815.5">245</text><circle cx="659" cy="813" r="7"/><text x="659" y="815.5">215</text><circle cx="684" cy="813" r="7"/><text x="684" y="815.5">204</text><circle cx="707" cy="813" r="7"/><text x="707" y="815.5">183</text>
<circle cx="492" cy="839" r="7"/><text x="492" y="841.5">182</text><circle cx="514" cy="839" r="7"/><text x="514" y="841.5">205</text><circle cx="538" cy="839" r="7"/><text x="538" y="841.5">214</text><circle cx="563" cy="839" r="7"/><text x="563" y="841.5">246</text><circle cx="587" cy="839" r="7"/><text x="587" y="841.5">255</text><circle cx="611" cy="839" r="7"/><text x="611" y="841.5">255</text><circle cx="635" cy="839" r="7"/><text x="635" y="841.5">246</text><circle cx="659" cy="839" r="7"/><text x="659" y="841.5">214</text><circle cx="684" cy="839" r="7"/><text x="684" y="841.5">205</text><circle cx="707" cy="839" r="7"/><text x="707" y="841.5">182</text>
<circle cx="492" cy="864" r="7"/><text x="492" y="866.5">181</text><circle cx="514" cy="864" r="7"/><text x="514" y="866.5">206</text><circle cx="538" cy="864" r="7"/><text x="538" y="866.5">213</text><circle cx="563" cy="864" r="7"/><text x="563" y="866.5">247</text><circle cx="587" cy="864" r="7"/><text x="587" y="866.5">254</text><circle cx="611" cy="864" r="7"/><text x="611" y="866.5">254</text><circle cx="635" cy="864" r="7"/><text x="635" y="866.5">247</text><circle cx="659" cy="864" r="7"/><text x="659" y="866.5">213</text><circle cx="684" cy="864" r="7"/><text x="684" y="866.5">206</text><circle cx="707" cy="864" r="7"/><text x="707" y="866.5">181</text>
<circle cx="492" cy="890" r="7"/><text x="492" y="892.5">180</text><circle cx="514" cy="890" r="7"/><text x="514" y="892.5">207</text><circle cx="538" cy="890" r="7"/><text x="538" y="892.5">212</text><circle cx="563" cy="890" r="7"/><text x="563" y="892.5">248</text><circle cx="587" cy="890" r="7"/><text x="587" y="892.5">253</text><circle cx="611" cy="890" r="7"/><text x="611" y="892.5">253</text><circle cx="635" cy="890" r="7"/><text x="635" y="892.5">248</text><circle cx="659" cy="890" r="7"/><text x="659" y="892.5">212</text><circle cx="684" cy="890" r="7"/><text x="684" y="892.5">207</text><circle cx="707" cy="890" r="7"/><text x="707" y="892.5">180</text>
<circle cx="492" cy="916" r="7"/><text x="492" y="918.5">179</text><circle cx="514" cy="916" r="7"/><text x="514" y="918.5">208</text><circle cx="538" cy="916" r="7"/><text x="538" y="918.5">211</text><circle cx="563" cy="916" r="7"/><text x="563" y="918.5">249</text><circle cx="587" cy="916" r="7"/><text x="587" y="918.5">252</text><circle cx="611" cy="916" r="7"/><text x="611" y="918.5">252</text><circle cx="635" cy="916" r="7"/><text x="635" y="918.5">249</text><circle cx="659" cy="916" r="7"/><text x="659" y="918.5">211</text><circle cx="684" cy="916" r="7"/><text x="684" y="918.5">208</text><circle cx="707" cy="916" r="7"/><text x="707" y="918.5">179</text>
<circle cx="492" cy="941" r="7"/><text x="492" y="943.5">178</text><circle cx="514" cy="941" r="7"/><text x="514" y="943.5">209</text><circle cx="538" cy="941" r="7"/><text x="538" y="943.5">210</text><circle cx="563" cy="941" r="7"/><text x="563" y="943.5">250</text><circle cx="587" cy="941" r="7"/><text x="587" y="943.5">251</text><circle cx="611" cy="941" r="7"/><text x="611" y="943.5">251</text><circle cx="635" cy="941" r="7"/><text x="635" y="943.5">250</text><circle cx="659" cy="941" r="7"/><text x="659" y="943.5">210</text><circle cx="684" cy="941" r="7"/><text x="684" y="943.5">209</text><circle cx="707" cy="941" r="7"/><text x="707" y="943.5">178</text>
</g>

<!-- notes / dates -->
<text class="t" x="408" y="1000" font-size="25" text-anchor="middle">NOTES</text>
<text class="t" x="780" y="1001" font-size="25" text-anchor="middle">DATES</text>
<g fill="none" stroke="#222" stroke-width="2.5">
<rect x="224" y="1007" width="367" height="116" rx="7"/>
<rect x="611" y="1008" width="340" height="116" rx="7"/>
</g>
<g stroke="#222" stroke-width="1.5">
<line x1="224" y1="1019" x2="591" y2="1019"/><line x1="224" y1="1034" x2="591" y2="1034"/><line x1="224" y1="1049" x2="591" y2="1049"/><line x1="224" y1="1064" x2="591" y2="1064"/><line x1="224" y1="1079" x2="591" y2="1079"/><line x1="224" y1="1094" x2="591" y2="1094"/><line x1="224" y1="1109" x2="591" y2="1109"/>
<line x1="346" y1="1007" x2="346" y2="1123"/><line x1="469" y1="1007" x2="469" y2="1123"/>
<line x1="611" y1="1020" x2="951" y2="1020"/><line x1="611" y1="1035" x2="951" y2="1035"/><line x1="611" y1="1050" x2="951" y2="1050"/><line x1="611" y1="1065" x2="951" y2="1065"/><line x1="611" y1="1080" x2="951" y2="1080"/><line x1="611" y1="1095" x2="951" y2="1095"/><line x1="611" y1="1110" x2="951" y2="1110"/>
<line x1="723" y1="1008" x2="723" y2="1124"/><line x1="839" y1="1008" x2="839" y2="1124"/>
</g>
<text x="226" y="1135" font-family="Liberation Sans, sans-serif" font-size="8" fill="#222">Copyright 2013 Ringmasters, LLC</text>

<!-- barcode -->
<g fill="#222">
<rect x="966" y="1023" width="18" height="2"/><rect x="966" y="1027" width="18" height="1"/><rect x="966" y="1030" width="18" height="2"/><rect x="966" y="1034" width="18" height="3"/><rect x="966" y="1039" width="18" height="1"/><rect x="966" y="1042" width="18" height="2"/><rect x="966" y="1046" width="18" height="1"/><rect x="966" y="1049" width="18" height="3"/><rect x="966" y="1054" width="18" height="1"/><rect x="966" y="1057" width="18" height="2"/><rect x="966" y="1061" width="18" height="1"/><rect x="966" y="1063" width="20" height="3"/><rect x="966" y="1068" width="18" height="1"/><rect x="966" y="1071" width="18" height="2"/><rect x="966" y="1075" width="18" height="1"/><rect x="966" y="1078" width="18" height="3"/><rect x="966" y="1083" width="18" height="2"/><rect x="966" y="1087" width="18" height="1"/><rect x="966" y="1090" width="18" height="3"/><rect x="966" y="1095" width="18" height="1"/><rect x="966" y="1098" width="18" height="2"/><rect x="966" y="1102" width="18" height="1"/><rect x="966" y="1105" width="18" height="3"/>
</g>
<g font-family="Liberation Sans, sans-serif" fill="#222">
<text transform="translate(963,1105) rotate(-90)" font-size="10">MESTC</text>
<text transform="translate(963,1050) rotate(-90)" font-size="10">$1.99</text>
<text transform="translate(992,1112) rotate(-90)" font-size="7">7  96924  07871  2</text>
</g>
</svg>
</body></html>
